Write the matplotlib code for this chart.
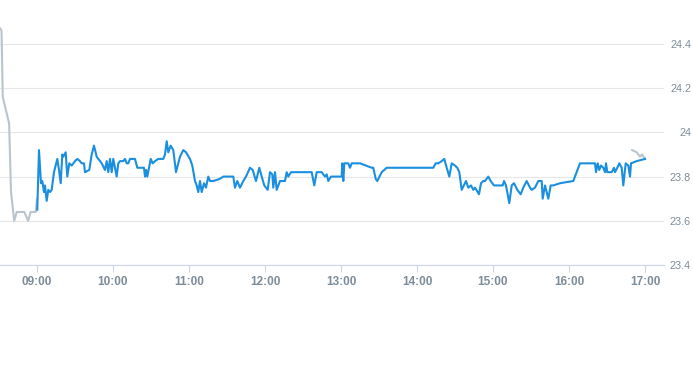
import matplotlib
matplotlib.use("Agg")
import matplotlib.pyplot as plt
import matplotlib.dates as mdates
import pandas as pd

plt.rcParams["font.family"] = ["Liberation Sans", "DejaVu Sans"]

day = "2024-01-02 "

# pre-market (gray)
pre_times = ["08:31:00", "08:32:00", "08:33:00", "08:38:00", "08:39:30", "08:42:00",
             "08:44:00", "08:50:00", "08:53:00", "08:55:00", "08:59:00", "09:00:00"]
pre_prices = [24.47, 24.46, 24.16, 24.04, 23.73, 23.60,
              23.64, 23.64, 23.60, 23.64, 23.64, 23.70]

# late gray tail
post_times = ["16:49:48", "16:53:27", "16:56:03", "16:57:38", "17:00:00"]
post_prices = [23.92, 23.91, 23.89, 23.90, 23.88]

# regular session (blue)
times = [
    "09:00:14", "09:01:35", "09:03:09", "09:04:11", "09:05:32", "09:06:19", "09:07:39", "09:08:55",
    "09:10:16", "09:11:36", "09:13:25", "09:16:02", "09:17:22", "09:18:43", "09:19:58", "09:20:46",
    "09:22:39", "09:23:55", "09:25:30", "09:27:24", "09:30:00", "09:31:49", "09:33:57", "09:35:17",
    "09:37:06", "09:37:54", "09:41:17", "09:43:11", "09:45:00", "09:47:08", "09:51:05", "09:53:41",
    "09:55:02", "09:56:17", "09:57:38", "09:58:58", "10:00:14", "10:01:35", "10:02:55", "10:04:11",
    "10:05:32", "10:08:08", "10:09:28", "10:10:49", "10:12:05", "10:13:25", "10:17:22", "10:19:11",
    "10:22:39", "10:24:28", "10:25:16", "10:26:12", "10:27:05", "10:28:25", "10:29:46", "10:31:20",
    "10:33:09", "10:35:46", "10:39:43", "10:41:03", "10:42:24", "10:43:39", "10:45:33", "10:47:36",
    "10:49:44", "10:52:54", "10:55:30", "10:57:38", "11:00:47", "11:02:36", "11:04:44", "11:06:05",
    "11:07:20", "11:08:41", "11:10:02", "11:11:51", "11:13:25", "11:15:14", "11:16:35", "11:19:11",
    "11:24:28", "11:27:05", "11:34:58", "11:36:19", "11:38:08", "11:40:16", "11:42:52", "11:45:00",
    "11:48:10", "11:50:17", "11:52:53", "11:55:30", "11:57:24", "11:59:27", "12:02:08", "12:03:57",
    "12:05:46", "12:06:33", "12:07:54", "12:09:14", "12:11:51", "12:15:47", "12:17:08", "12:18:24",
    "12:20:32", "12:36:52", "12:38:55", "12:40:49", "12:44:46", "12:47:22", "12:48:43", "12:49:58",
    "12:52:06", "13:00:33", "13:01:02", "13:01:49", "13:02:37", "13:05:46", "13:07:07", "13:08:27",
    "13:15:00", "13:24:14", "13:25:30", "13:27:24", "13:28:39", "13:32:08", "13:36:05", "14:12:52",
    "14:14:46", "14:16:49", "14:19:30", "14:21:33", "14:23:27", "14:25:30", "14:27:24", "14:30:00",
    "14:31:49", "14:33:24", "14:35:17", "14:38:41", "14:40:30", "14:42:38", "14:44:27", "14:45:47",
    "14:48:57", "14:50:32", "14:52:20", "14:53:41", "14:56:17", "14:58:11", "15:00:47", "15:07:39",
    "15:08:41", "15:10:16", "15:12:52", "15:14:46", "15:16:35", "15:19:11", "15:21:52", "15:23:55",
    "15:26:37", "15:29:13", "15:30:33", "15:33:09", "15:35:46", "15:38:27", "15:39:14", "15:41:03",
    "15:43:39", "15:45:33", "15:47:36", "15:52:53", "16:03:23", "16:08:41", "16:20:32", "16:21:19",
    "16:22:40", "16:23:55", "16:25:16", "16:27:05", "16:28:25", "16:29:13", "16:30:14", "16:33:43",
    "16:35:32", "16:36:19", "16:38:08", "16:39:43", "16:41:37", "16:42:52", "16:44:46", "16:46:49",
    "16:48:10", "16:48:57", "16:53:27", "17:00:00",
]
prices = [
    23.65, 23.92, 23.77, 23.78, 23.73, 23.76, 23.69, 23.74,
    23.73, 23.74, 23.82, 23.88, 23.83, 23.77, 23.90, 23.89,
    23.91, 23.80, 23.86, 23.85, 23.87, 23.88, 23.87, 23.86,
    23.86, 23.82, 23.83, 23.90, 23.94, 23.89, 23.86, 23.83,
    23.87, 23.82, 23.88, 23.82, 23.88, 23.84, 23.80, 23.86,
    23.87, 23.87, 23.88, 23.86, 23.86, 23.88, 23.88, 23.84,
    23.84, 23.84, 23.80, 23.83, 23.80, 23.84, 23.88, 23.86,
    23.87, 23.88, 23.88, 23.90, 23.96, 23.91, 23.94, 23.92,
    23.82, 23.89, 23.92, 23.91, 23.88, 23.85, 23.78, 23.76,
    23.73, 23.78, 23.73, 23.77, 23.75, 23.80, 23.78, 23.78,
    23.79, 23.80, 23.80, 23.75, 23.78, 23.75, 23.78, 23.80,
    23.84, 23.83, 23.78, 23.84, 23.80, 23.76, 23.74, 23.82,
    23.81, 23.75, 23.82, 23.74, 23.78, 23.78, 23.82, 23.80,
    23.82, 23.82, 23.76, 23.82, 23.82, 23.80, 23.81, 23.78,
    23.80, 23.80, 23.86, 23.78, 23.86, 23.86, 23.84, 23.86,
    23.86, 23.84, 23.84, 23.79, 23.78, 23.82, 23.84, 23.84,
    23.86, 23.86, 23.87, 23.88, 23.84, 23.80, 23.86, 23.85,
    23.84, 23.82, 23.74, 23.78, 23.75, 23.76, 23.74, 23.75,
    23.72, 23.77, 23.78, 23.78, 23.80, 23.78, 23.76, 23.76,
    23.78, 23.76, 23.68, 23.76, 23.77, 23.74, 23.72, 23.75,
    23.78, 23.75, 23.74, 23.75, 23.78, 23.78, 23.70, 23.76,
    23.70, 23.76, 23.76, 23.77, 23.78, 23.86, 23.86, 23.82,
    23.86, 23.83, 23.85, 23.84, 23.82, 23.86, 23.82, 23.82,
    23.84, 23.82, 23.84, 23.86, 23.84, 23.76, 23.86, 23.85,
    23.80, 23.86, 23.87, 23.88,
]

hour_ticks = ["09:00", "10:00", "11:00", "12:00", "13:00", "14:00", "15:00", "16:00", "17:00"]
y_ticks = [23.4, 23.6, 23.8, 24.0, 24.2, 24.4]

to_dt = lambda ts: pd.to_datetime([day + t for t in ts])

fig = plt.figure(figsize=(6.93, 3.65), dpi=100)
ax = fig.add_axes([0, 100 / 365, 664 / 693, 265 / 365])

ax.plot(to_dt(pre_times), pre_prices, color="#b9c4cc", linewidth=1.5, zorder=2)
ax.plot(to_dt(post_times), post_prices, color="#b9c4cc", linewidth=1.5, zorder=2)
ax.plot(to_dt(times), prices, color="#1a8fe0", linewidth=1.5, zorder=3)

ax.set_xlim(pd.Timestamp(day + "08:30:48"), pd.Timestamp(day + "17:15:00"))
ax.set_ylim(23.4, 24.599)

ax.set_xticks(to_dt([h + ":00" for h in hour_ticks]))
ax.xaxis.set_major_formatter(mdates.DateFormatter("%H:%M"))
ax.set_yticks(y_ticks)
ax.set_yticklabels([f"{v:g}" for v in y_ticks])

ax.yaxis.tick_right()
ax.grid(axis="y", color="#e6e6e6", linewidth=0.8)
ax.set_axisbelow(True)
for s in ["top", "left", "right"]:
    ax.spines[s].set_visible(False)
ax.spines["bottom"].set_color("#ccd6eb")
ax.spines["bottom"].set_linewidth(0.8)

ax.tick_params(axis="x", length=5, width=0.8, color="#ccd6eb", pad=3,
               labelsize=8.5, labelcolor="#7d8c9a")
ax.tick_params(axis="y", length=0, pad=19.5, labelsize=7.8, labelcolor="#7d8c9a")
for lbl in ax.get_xticklabels():
    lbl.set_fontweight("bold")
for lbl in ax.get_yticklabels():
    lbl.set_horizontalalignment("right")

fig.savefig("out.png", dpi=100)
